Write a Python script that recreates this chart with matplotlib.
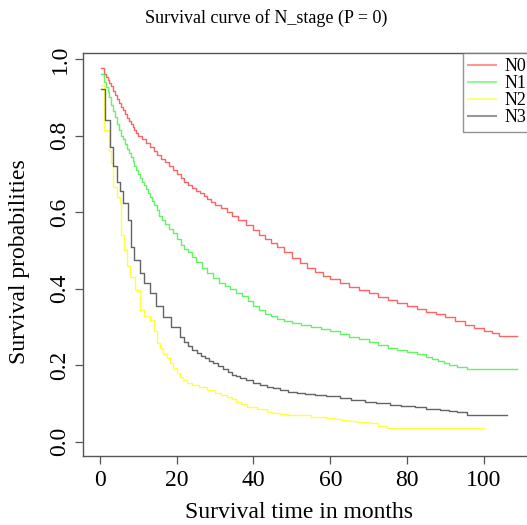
import matplotlib
matplotlib.use("Agg")
import matplotlib.pyplot as plt

# Kaplan-Meier style estimates (time in months, survival)
n0_t = [0.3, 1, 1.5, 2, 2.5, 3, 3.5, 4, 4.5, 5, 5.5, 6, 6.5, 7, 7.5, 8, 8.5, 9, 9.5, 10,
        11, 12, 13, 14, 15, 16, 17, 18, 19, 20, 21, 22, 23, 24, 25, 26, 27, 28, 29, 30,
        31.5, 33, 34.5, 36, 38, 40, 41.5, 43, 44.5, 46, 48, 50, 52, 54, 56, 58, 60, 62.5,
        65, 67.5, 70, 72.5, 75, 77.5, 80, 82.5, 85, 87.5, 90, 92.5, 95, 97.5, 100, 102,
        104, 108.6]
n0_s = [0.976, 0.962, 0.952, 0.945, 0.937, 0.93, 0.917, 0.905, 0.895, 0.885, 0.876,
        0.867, 0.856, 0.845, 0.838, 0.83, 0.822, 0.815, 0.807, 0.80, 0.79, 0.78, 0.77,
        0.76, 0.75, 0.74, 0.73, 0.72, 0.71, 0.70, 0.69, 0.68, 0.671, 0.663, 0.656, 0.65,
        0.642, 0.635, 0.627, 0.62, 0.61, 0.60, 0.59, 0.58, 0.567, 0.553, 0.541, 0.53,
        0.52, 0.51, 0.495, 0.48, 0.468, 0.455, 0.444, 0.434, 0.425, 0.415, 0.405, 0.396,
        0.388, 0.379, 0.37, 0.363, 0.356, 0.348, 0.34, 0.333, 0.326, 0.316, 0.305, 0.297,
        0.29, 0.284, 0.277, 0.277]

n1_t = [0.4, 1, 1.5, 2, 2.5, 3, 3.5, 4, 4.5, 5, 5.5, 6, 6.5, 7, 7.5, 8, 8.5, 9, 9.5, 10,
        10.5, 11, 11.5, 12, 12.5, 13, 13.5, 14, 14.8, 15.5, 16.2, 17, 18, 19, 20, 21, 22,
        23, 24, 25, 26.5, 28, 29.5, 31, 32.5, 34, 35.5, 37, 38.5, 40, 41.5, 43, 44.5, 46,
        48, 50, 52.5, 55, 57.5, 60, 62.5, 65, 67.5, 70, 72.5, 75, 77.5, 80, 82.5, 85,
        86.5, 88, 89.5, 91, 93, 95.5, 108.6]
n1_s = [0.962, 0.94, 0.928, 0.915, 0.90, 0.88, 0.865, 0.85, 0.83, 0.815, 0.80, 0.79,
        0.778, 0.765, 0.755, 0.745, 0.733, 0.72, 0.71, 0.70, 0.69, 0.68, 0.67, 0.66,
        0.65, 0.64, 0.63, 0.62, 0.605, 0.59, 0.58, 0.57, 0.557, 0.545, 0.53, 0.515,
        0.505, 0.495, 0.483, 0.47, 0.455, 0.44, 0.427, 0.415, 0.407, 0.40, 0.39, 0.38,
        0.367, 0.355, 0.345, 0.335, 0.328, 0.322, 0.316, 0.31, 0.305, 0.30, 0.295, 0.29,
        0.283, 0.275, 0.268, 0.26, 0.252, 0.245, 0.24, 0.236, 0.229, 0.222, 0.216, 0.21,
        0.205, 0.20, 0.195, 0.19, 0.19]

n2_t = [0.26, 1, 2.5, 3, 3.4, 4.5, 5.2, 5.6, 6.3, 7, 7.8, 9.1, 10.4, 11.5, 13, 14, 14.8,
        15.6, 16.5, 17.4, 18.2, 19.1, 20, 20.8, 21.6, 22.7, 23.9, 25.8, 27.8, 30, 31.5,
        33, 34.3, 35.5, 36.8, 38.2, 41, 43.4, 45, 47, 49, 51.2, 55, 59, 61, 63, 65,
        66.9, 70, 72.5, 74.7, 100]
n2_s = [0.932, 0.815, 0.76, 0.728, 0.667, 0.64, 0.624, 0.54, 0.50, 0.46, 0.432, 0.397,
        0.345, 0.33, 0.318, 0.29, 0.258, 0.245, 0.23, 0.218, 0.206, 0.193, 0.18, 0.17,
        0.162, 0.155, 0.149, 0.142, 0.136, 0.128, 0.123, 0.118, 0.112, 0.105, 0.098,
        0.092, 0.085, 0.079, 0.076, 0.073, 0.071, 0.07, 0.066, 0.062, 0.06, 0.058, 0.055,
        0.053, 0.048, 0.042, 0.036, 0.036]

n3_t = [0.2, 1.3, 2.6, 3.4, 4.5, 5.2, 6, 7.3, 8.2, 9, 10.4, 11.5, 13, 14.5, 16.4, 18.5,
        20.8, 22, 23, 24, 25.2, 26.3, 27.5, 28.5, 29.5, 30.7, 32, 33.3, 34.5, 35.5, 36.5,
        38, 40, 41.7, 43.5, 45, 47, 49, 51.3, 53.5, 56, 59, 62.5, 65.5, 69, 72, 75.5,
        78.5, 82, 85, 88.5, 91, 93, 95.5, 106]
n3_s = [0.921, 0.84, 0.77, 0.72, 0.68, 0.655, 0.625, 0.58, 0.51, 0.475, 0.44, 0.415,
        0.39, 0.355, 0.327, 0.30, 0.274, 0.262, 0.25, 0.24, 0.232, 0.225, 0.218, 0.212,
        0.206, 0.198, 0.19, 0.182, 0.175, 0.171, 0.167, 0.161, 0.155, 0.149, 0.144, 0.14,
        0.135, 0.131, 0.128, 0.125, 0.122, 0.119, 0.115, 0.11, 0.105, 0.101, 0.097,
        0.093, 0.09, 0.087, 0.084, 0.08, 0.077, 0.071, 0.071]

groups = ["N0", "N1", "N2", "N3"]
colors = ["#ff3030", "#30f030", "#ffff00", "#303030"]

plt.rcParams['font.family'] = ['Liberation Serif', 'DejaVu Serif']

W, H = 527, 525
fig = plt.figure(figsize=(W / 100, H / 100), dpi=100)
# axes box in pixels: left 83, right ~528 (cut at the edge), top 53, bottom 456
ax = fig.add_axes([83 / W, (H - 456) / H, 445 / W, (456 - 53) / H])

for t, s, c, g in zip([n0_t, n1_t, n2_t, n3_t], [n0_s, n1_s, n2_s, n3_s], colors, groups):
    ax.plot(t, s, drawstyle='steps-post', color=c, lw=1.0, alpha=0.75, label=g)

ax.set_xlim(-4.4, 111.5)
ax.set_ylim(-0.037, 1.016)
ax.set_xticks([0, 20, 40, 60, 80, 100])
ax.set_yticks([0.0, 0.2, 0.4, 0.6, 0.8, 1.0])
ax.set_yticklabels(["0.0", "0.2", "0.4", "0.6", "0.8", "1.0"])

for sp in ax.spines.values():
    sp.set_color("#555555")
    sp.set_linewidth(1.0)

ax.tick_params(axis='both', direction='out', length=6, width=0.9, color="#555555",
               labelsize=17)
ax.tick_params(axis='x', pad=4)
ax.tick_params(axis='y', pad=3)
for lab in ax.get_yticklabels():
    lab.set_rotation(90)
    lab.set_va('center')

ax.set_xlabel("Survival time in months", fontsize=17)
ax.set_ylabel("Survival probabilities", fontsize=17)
ax.xaxis.set_label_coords((299 - 83) / 445, -(513 - 456) / (456 - 53))
ax.yaxis.set_label_coords((20 - 83) / 445, (456 - 262) / (456 - 53))
ax.xaxis.label.set_va('center')
ax.yaxis.label.set_va('center')

fig.text(266 / W, 1 - 18 / H, "Survival curve of N_stage (P = 0)", fontsize=13,
         ha='center', va='center')

leg = ax.legend(loc='upper left', bbox_to_anchor=((463 - 83) / 445, 1.0),
                frameon=True, fancybox=False, fontsize=13, handlelength=1.5,
                handletextpad=0.5, borderpad=0.3, labelspacing=0.0,
                borderaxespad=0)
leg.get_frame().set_edgecolor("#777777")
leg.get_frame().set_linewidth(1.0)
for h in leg.get_lines():
    h.set_alpha(0.5)
    h.set_linewidth(1.5)

fig.savefig("out.png", dpi=100)
